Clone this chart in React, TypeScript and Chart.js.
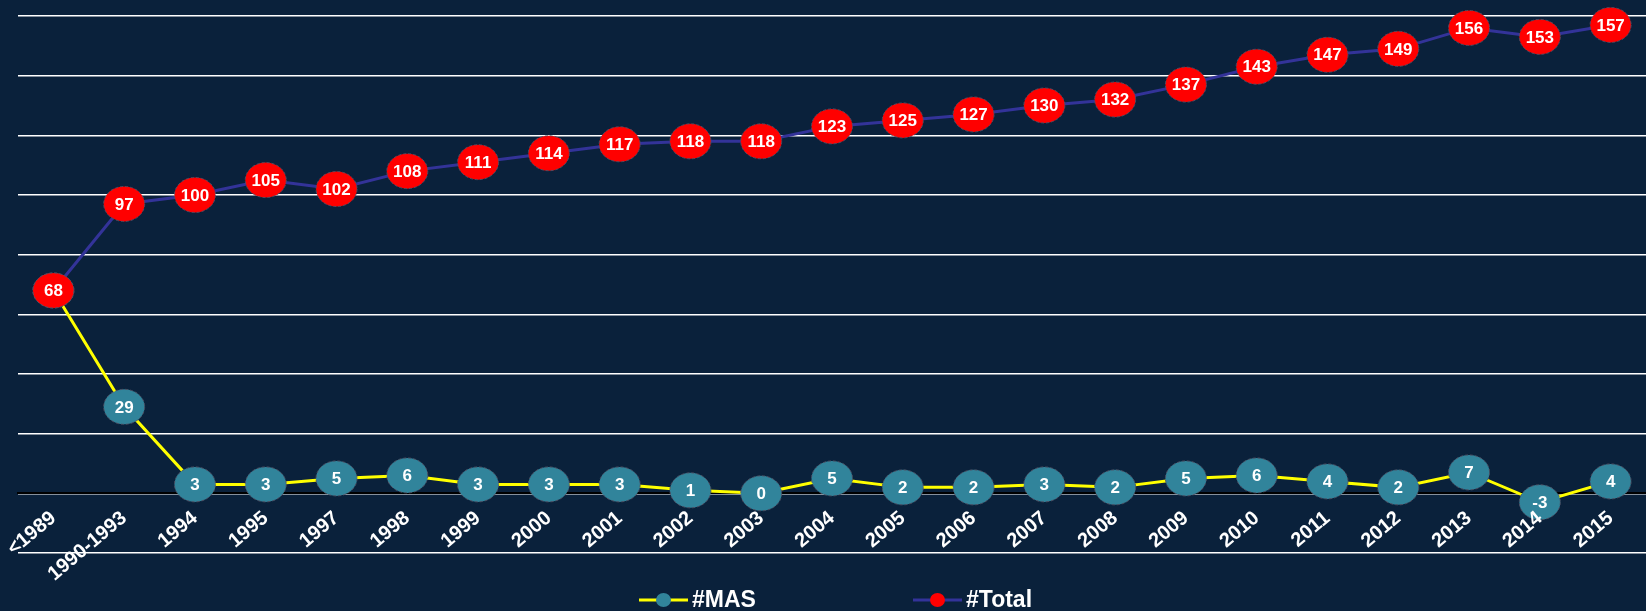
import React, { useEffect, useRef } from "react";
import { Chart, registerables } from "chart.js";

Chart.register(...registerables);

const categories = ["<1989", "1990-1993", "1994", "1995", "1997", "1998", "1999", "2000", "2001", "2002", "2003", "2004", "2005", "2006", "2007", "2008", "2009", "2010", "2011", "2012", "2013", "2014", "2015"];
const masValues = [68, 29, 3, 3, 5, 6, 3, 3, 3, 1, 0, 5, 2, 2, 3, 2, 5, 6, 4, 2, 7, -3, 4];
const totalValues = [68, 97, 100, 105, 102, 108, 111, 114, 117, 118, 118, 123, 125, 127, 130, 132, 137, 143, 147, 149, 156, 153, 157];
const seriesNames = ["#MAS", "#Total"];
const yMin = -20;
const yMax = 160;
const yStep = 20;

const BG = "#0a213b";
const MAS_LINE = "#ffff00";
const MAS_DOT = "#31849b";
const TOTAL_LINE = "#333399";
const TOTAL_DOT = "#ff0000";

const bgPlugin = {
  id: "bgFill",
  beforeDraw(chart: any) {
    const ctx = chart.ctx;
    ctx.save();
    ctx.fillStyle = BG;
    ctx.fillRect(0, 0, chart.width, chart.height);
    ctx.restore();
  },
};

const bubblePlugin = {
  id: "bubbles",
  afterDatasetsDraw(chart: any) {
    const ctx = chart.ctx;
    chart.data.datasets.forEach((ds: any, di: number) => {
      const meta = chart.getDatasetMeta(di);
      meta.data.forEach((pt: any, i: number) => {
        const x = pt.x;
        const y = pt.y;
        ctx.save();
        ctx.beginPath();
        ctx.ellipse(x, y, 20.5, 17.5, 0, 0, Math.PI * 2);
        ctx.fillStyle = ds.bubbleColor;
        ctx.fill();
        ctx.setLineDash([3, 2]);
        ctx.strokeStyle = "rgba(80,80,100,0.9)";
        ctx.lineWidth = 1;
        ctx.stroke();
        ctx.setLineDash([]);
        ctx.fillStyle = "#ffffff";
        ctx.font = 'bold 17px "Liberation Sans", Arial, sans-serif';
        ctx.textAlign = "center";
        ctx.textBaseline = "middle";
        ctx.fillText(String(ds.data[i]), x, y + 1);
        ctx.restore();
      });
    });
  },
};

const legendPlugin = {
  id: "customLegend",
  afterDraw(chart: any) {
    const ctx = chart.ctx;
    const cx = chart.width / 2;
    const cy = 600;
    const items = [
      { text: seriesNames[0], line: MAS_LINE, dot: MAS_DOT, lx: cx - 184 },
      { text: seriesNames[1], line: TOTAL_LINE, dot: TOTAL_DOT, lx: cx + 90 },
    ];
    ctx.save();
    items.forEach((it) => {
      ctx.strokeStyle = it.line;
      ctx.lineWidth = 3;
      ctx.beginPath();
      ctx.moveTo(it.lx, cy);
      ctx.lineTo(it.lx + 49, cy);
      ctx.stroke();
      ctx.beginPath();
      ctx.ellipse(it.lx + 24.5, cy, 7.5, 7, 0, 0, Math.PI * 2);
      ctx.fillStyle = it.dot;
      ctx.fill();
      ctx.fillStyle = "#ffffff";
      ctx.font = 'bold 23px "Liberation Sans", Arial, sans-serif';
      ctx.textAlign = "left";
      ctx.textBaseline = "middle";
      ctx.fillText(it.text, it.lx + 53, cy + 1);
    });
    ctx.restore();
  },
};

export default function App() {
  const ref = useRef<HTMLCanvasElement | null>(null);
  useEffect(() => {
    document.body.style.margin = "0";
    document.body.style.background = BG;
    if (!ref.current) return;
    const chart = new Chart(ref.current, {
      type: "line",
      data: {
        labels: categories,
        datasets: [
          {
            label: seriesNames[0],
            data: masValues,
            borderColor: MAS_LINE,
            backgroundColor: MAS_DOT,
            borderWidth: 3,
            pointRadius: 0,
            tension: 0,
            bubbleColor: MAS_DOT,
          } as any,
          {
            label: seriesNames[1],
            data: totalValues,
            borderColor: TOTAL_LINE,
            backgroundColor: TOTAL_DOT,
            borderWidth: 3,
            pointRadius: 0,
            tension: 0,
            bubbleColor: TOTAL_DOT,
          } as any,
        ],
      },
      options: {
        animation: false,
        responsive: false,
        layout: { padding: { left: 18, right: 0, top: 16, bottom: 58 } },
        plugins: {
          legend: { display: false },
          tooltip: { enabled: false },
        },
        scales: {
          x: {
            type: "category",
            position: { y: 0 } as any,
            offset: true,
            grid: { display: false, drawTicks: false },
            border: { display: true, color: "#000000", width: 2 },
            afterFit: (scale: any) => {
              scale.paddingLeft = 0;
              scale.paddingRight = 0;
            },
            ticks: {
              color: "#ffffff",
              autoSkip: false,
              minRotation: 40,
              maxRotation: 40,
              padding: 13,
              z: 1,
              font: { family: '"Liberation Sans", Arial, sans-serif', size: 20, weight: "bold" },
            },
          },
          y: {
            min: yMin,
            max: yMax,
            ticks: { display: false, stepSize: yStep },
            grid: { color: "#ffffff", lineWidth: 1.5, drawTicks: false },
            border: { display: false },
          },
        },
      },
      plugins: [bgPlugin, bubblePlugin, legendPlugin],
    });
    return () => chart.destroy();
  }, []);
  return (
    <div style={{ width: 1646, height: 611 }}>
      <canvas ref={ref} width={1646} height={611} />
    </div>
  );
}
